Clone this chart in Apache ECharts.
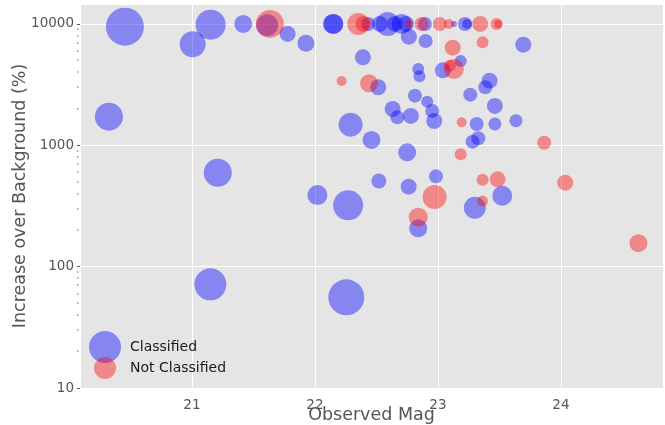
<!DOCTYPE html>
<html>
<head>
<meta charset="utf-8">
<script src="https://cdn.jsdelivr.net/npm/echarts@6/dist/echarts.min.js"></script>
<style>
html,body{margin:0;padding:0;background:#fff;}
#chart{width:665px;height:425px;}
</style>
</head>
<body>
<div id="chart"></div>
<script>
// Classified: observed magnitude, increase over background (%), bubble weight
const classifiedMag = [20.455, 21.006, 21.152, 21.417, 21.612, 21.778, 21.927, 22.149, 22.149, 22.29, 21.21, 20.325, 22.02, 22.27, 21.15, 22.255,
  22.433, 22.528, 22.591, 22.650, 22.705, 22.740, 22.894, 23.130, 23.220, 23.238,
  22.764, 22.90, 23.694, 22.39, 23.185, 22.84, 23.04, 22.85, 22.515, 23.42, 23.385, 22.813, 23.263, 22.913, 23.463,
  22.632, 22.954, 22.67, 22.78, 22.97, 23.315, 23.463, 23.634, 22.46, 23.282, 23.328, 22.75, 22.52, 22.762, 22.984,
  23.30, 23.523, 22.84];
const classifiedIncrease = [9500, 6800, 9870, 10000, 9750, 8270, 6930, 10000, 10000, 1480, 594, 1720, 389, 320, 71.5, 55.9,
  10000, 10000, 10000, 10000, 10000, 10000, 10000, 10000, 10000, 10000,
  7860, 7240, 6750, 5310, 4960, 4260, 4150, 3700, 3010, 3410, 3010, 2565, 2615, 2290, 2110,
  1990, 1920, 1700, 1746, 1585, 1500, 1500, 1596, 1106, 1072, 1142, 876, 508, 456, 555,
  306, 384, 207];
const classifiedWeight = [19, 13, 15, 9, 11, 8, 8.5, 10, 10, 12, 14, 14, 10, 15, 16, 18,
  7, 8, 12, 8, 10, 8, 7, 3, 7, 5,
  8, 7, 8, 8, 6, 6, 8, 6, 8, 8, 7, 7, 7, 6, 8,
  8, 7, 7, 8, 8, 7, 6.5, 6.5, 9, 7, 7, 9, 7.5, 8, 7,
  11, 10, 9];

// Not classified
const notClassifiedMag = [21.634, 22.217, 22.352, 22.393, 22.764, 22.867, 23.016, 23.089, 23.344, 23.477, 23.490,
  23.363, 23.12, 23.13, 23.098, 22.44, 23.193, 23.864, 23.185, 23.363, 23.485, 24.035, 22.973, 23.363, 22.84, 24.63];
const notClassifiedIncrease = [10000, 3390, 10000, 10000, 10000, 10000, 10000, 10000, 10000, 10000, 10000,
  7060, 6380, 4260, 4530, 3240, 1546, 1050, 843, 520, 524, 492, 375, 347, 255, 156];
const notClassifiedWeight = [14, 5, 11, 8, 4, 7, 7, 5, 8, 6, 4,
  6, 8, 10, 6, 9, 5, 7, 6, 6, 8, 8, 12, 5.5, 9.5, 9];

const seriesNames = ['Classified', 'Not Classified'];
const yTicks = [10, 100, 1000, 10000];
const yMinorTicks = [20, 30, 40, 50, 60, 70, 80, 90, 200, 300, 400, 500, 600, 700, 800, 900,
  2000, 3000, 4000, 5000, 6000, 7000, 8000, 9000];
const xMin = 20.09, xMax = 24.83, yMin = 10, yMax = 14600;

function zip(a, b, c) { return a.map((v, i) => [v, b[i], c[i]]); }

const FONT = 'DejaVu Sans';
const chart = echarts.init(document.getElementById('chart'), null, {renderer: 'canvas'});
const option = {
  animation: false,
  backgroundColor: '#ffffff',
  grid: {left: 80, right: 2, top: 4, bottom: 37, show: true, backgroundColor: '#e5e5e5', borderWidth: 0,
         containLabel: false, outerBoundsMode: 'none'},
  legend: [
    {data: [{name: seriesNames[0], icon: 'circle'}], left: 84, top: 326, itemWidth: 32, itemHeight: 32, orient: 'vertical',
     itemGap: 0, textStyle: {fontFamily: FONT, fontSize: 14, color: '#1a1a1a', padding: [0, 0, 0, 4]}, selectedMode: false},
    {data: [{name: seriesNames[1], icon: 'circle'}], left: 89, top: 352, itemWidth: 22, itemHeight: 22, orient: 'vertical',
     itemGap: 0, textStyle: {fontFamily: FONT, fontSize: 14, color: '#1a1a1a', padding: [0, 0, 0, 9]}, selectedMode: false}
  ],
  xAxis: {
    type: 'value', min: xMin, max: xMax, splitNumber: 5,
    name: 'Observed Mag', nameLocation: 'middle', nameGap: 18, nameMoveOverlap: false,
    nameTextStyle: {fontFamily: FONT, fontSize: 17.5, color: '#555', verticalAlign: 'top'},
    axisLine: {show: false}, axisTick: {show: false},
    axisLabel: {fontFamily: FONT, fontSize: 13.5, color: '#555', margin: 10, showMinLabel: false, showMaxLabel: false},
    splitLine: {show: true, lineStyle: {color: '#ffffff', width: 1}}
  },
  yAxis: {
    type: 'log', logBase: 10, min: yMin, max: yMax,
    name: 'Increase over Background (%)', nameLocation: 'middle', nameGap: 51, nameMoveOverlap: false,
    nameTextStyle: {fontFamily: FONT, fontSize: 17.5, color: '#555'},
    axisLine: {show: false},
    axisTick: {show: true, length: 3, lineStyle: {color: '#555'}},
    axisLabel: {fontFamily: FONT, fontSize: 13.5, color: '#555', margin: 6, showMaxLabel: false,
      formatter: v => (yTicks.indexOf(Math.round(v)) >= 0 ? String(Math.round(v)) : '')},
    splitLine: {show: true, lineStyle: {color: '#ffffff', width: 1}}
  },
  series: [
    {name: seriesNames[0], type: 'scatter', data: zip(classifiedMag, classifiedIncrease, classifiedWeight),
     symbolSize: d => d[2] * 2, itemStyle: {color: 'rgba(0,0,255,0.52)', borderWidth: 0}},
    {name: seriesNames[1], type: 'scatter', data: zip(notClassifiedMag, notClassifiedIncrease, notClassifiedWeight),
     symbolSize: d => d[2] * 2, itemStyle: {color: 'rgba(255,0,0,0.5)', borderWidth: 0}},
    {name: 'minorTicks', type: 'custom', clip: false, silent: true, z: 1,
     data: yMinorTicks.map(v => [xMin, v]),
     renderItem: (params, api) => {
       const p = api.coord([api.value(0), api.value(1)]);
       return {type: 'rect', shape: {x: p[0] - 3, y: Math.round(p[1]) - 0.5, width: 1.5, height: 1},
               style: {fill: '#666'}};
     }}
  ]
};
chart.setOption(option);
</script>
</body>
</html>
